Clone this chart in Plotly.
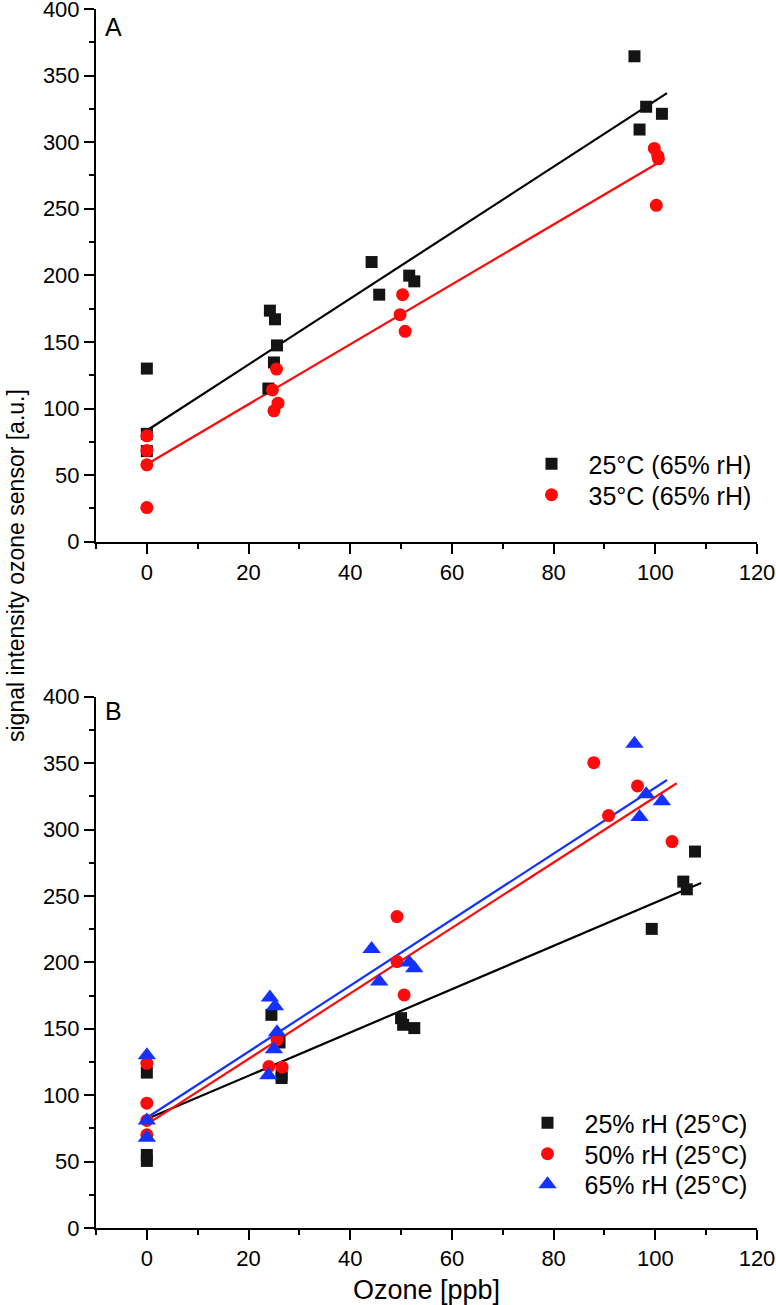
import plotly.graph_objects as go

# ---------------- data ----------------
# Panel A: 25°C (65% rH)  -- identical data set is used for 65% rH (25°C) in panel B
a_black_x = [0, 0, 0, 24.2, 25.2, 25.6, 25.0, 23.9, 44.2, 45.7, 51.6, 52.6, 95.9, 98.2, 101.3, 96.9]
a_black_y = [130, 81, 68, 173.5, 167, 147.4, 134.6, 115, 210, 185.5, 199.8, 195.5, 364.5, 326.6, 321.3, 309.5]
# Panel A: 35°C (65% rH)
a_red_x = [0, 0, 0, 0, 25.5, 24.7, 25.8, 25.0, 50.3, 49.8, 50.8, 99.8, 100.5, 100.6, 100.2]
a_red_y = [79.5, 68.4, 57.7, 25.6, 129.6, 114, 104, 98.3, 185.5, 170.5, 158, 295.3, 289.5, 287.5, 252.6]
# Panel B: 25% rH (25°C)
b_black_x = [0, 0, 0, 24.5, 26.1, 26.5, 26.5, 50.0, 50.4, 52.6, 99.3, 105.5, 106.2, 107.8]
b_black_y = [117, 55, 50.5, 160.5, 139.7, 115.3, 112.9, 158, 153, 150.5, 225.2, 260.8, 255, 283.4]
# Panel B: 50% rH (25°C)
b_red_x = [0, 0, 0, 0, 25.6, 24.0, 26.6, 49.2, 49.2, 50.6, 87.9, 96.5, 90.8, 103.3]
b_red_y = [124, 94, 81, 70.2, 141.7, 121.6, 121.1, 234.5, 200.6, 175.5, 350.3, 332.8, 310.5, 290.9]
# Panel B: 65% rH (25°C)
b_blue_x = a_black_x
b_blue_y = a_black_y

# linear fits as drawn in the reference: (intercept, slope, x_start, x_end)
fit_a_black = (83.5, 2.476, 0, 102.3)
fit_a_red = (58.2, 2.25, 0, 100.6)
fit_b_black = (82.0, 1.63, 0, 109.0)
fit_b_red = (78.0, 2.465, 0, 104.2)
fit_b_blue = (83.0, 2.486, 0, 102.3)

legend_a = ["25°C (65% rH)", "35°C (65% rH)"]
legend_b = ["25% rH (25°C)", "50% rH (25°C)", "65% rH (25°C)"]

x_ticks = [0, 20, 40, 60, 80, 100, 120]
y_ticks = [0, 50, 100, 150, 200, 250, 300, 350, 400]

# ---------------- styling ----------------
FONT = "Liberation Sans, Arial, sans-serif"
BLACK = "#141414"
RED = "#ff0a0a"
BLUE = "#1432ff"

H, W = 1305, 776
mt, mb, ml, mr = 9, 77, 96, 19
ph = H - mt - mb


def py(pix):  # pixel row -> paper y
    return (H - mb - pix) / ph


def px(pix):  # pixel column -> paper x
    return (pix - ml) / (W - ml - mr)


fig = go.Figure()


def fit_line(fit, color, xa, ya):
    b0, b1, xs, xe = fit
    fig.add_trace(go.Scatter(x=[xs, xe], y=[b0 + b1 * xs, b0 + b1 * xe], mode="lines",
                             line=dict(color=color, width=2.2), showlegend=False,
                             xaxis=xa, yaxis=ya, hoverinfo="skip"))


def pts(x, y, color, symbol, size, name, xa, ya, legend):
    fig.add_trace(go.Scatter(x=x, y=y, mode="markers", name=name,
                             marker=dict(color=color, symbol=symbol, size=size, line=dict(width=0)),
                             xaxis=xa, yaxis=ya, legend=legend, cliponaxis=False))


# Panel A
fit_line(fit_a_black, "black", "x", "y")
fit_line(fit_a_red, RED, "x", "y")
pts(a_black_x, a_black_y, BLACK, "square", 12, legend_a[0], "x", "y", "legend")
pts(a_red_x, a_red_y, RED, "circle", 13, legend_a[1], "x", "y", "legend2")

# Panel B
fit_line(fit_b_black, "black", "x2", "y2")
fit_line(fit_b_red, RED, "x2", "y2")
fit_line(fit_b_blue, BLUE, "x2", "y2")
pts(b_black_x, b_black_y, BLACK, "square", 12, legend_b[0], "x2", "y2", "legend3")
pts(b_red_x, b_red_y, RED, "circle", 13, legend_b[1], "x2", "y2", "legend4")
pts(b_blue_x, b_blue_y, BLUE, "triangle-up", 16, legend_b[2], "x2", "y2", "legend5")

axis_common = dict(showline=True, linecolor="black", linewidth=2, ticks="outside", ticklen=10,
                   tickwidth=2, tickcolor="black", showgrid=False, zeroline=False, mirror=False,
                   automargin=False, ticklabeloverflow="allow",
                   tickfont=dict(size=22, color="black", family=FONT))

xcfg = dict(axis_common, range=[-10, 120], tickmode="array", tickvals=x_ticks,
            minor=dict(ticks="outside", ticklen=5, tickwidth=2, tickcolor="black", dtick=10, tick0=0))
ycfg = dict(axis_common, range=[0, 400], tickmode="array", tickvals=y_ticks,
            minor=dict(ticks="outside", ticklen=5, tickwidth=2, tickcolor="black", dtick=25, tick0=0))

leg_common = dict(xanchor="left", yanchor="middle", bgcolor="rgba(0,0,0,0)",
                  font=dict(size=25, color="black", family=FONT), itemwidth=64, tracegroupgap=0)

fig.update_layout(
    width=W, height=H,
    margin=dict(l=ml, r=mr, t=mt, b=mb, autoexpand=False),
    paper_bgcolor="white", plot_bgcolor="white",
    font=dict(family=FONT, color="black"),
    xaxis=dict(xcfg, anchor="y"),
    yaxis=dict(ycfg, domain=[py(541.7), 1], anchor="x"),
    xaxis2=dict(xcfg, anchor="y2"),
    yaxis2=dict(ycfg, domain=[0, py(696.7)], anchor="x2"),
    legend=dict(leg_common, x=px(514.5), y=py(464)),
    legend2=dict(leg_common, x=px(514.5), y=py(495)),
    legend3=dict(leg_common, x=px(510.5), y=py(1123)),
    legend4=dict(leg_common, x=px(510.5), y=py(1154)),
    legend5=dict(leg_common, x=px(510.5), y=py(1184.5)),
    annotations=[
        dict(text="A", x=px(103), y=py(27), xref="paper", yref="paper", xanchor="left", yanchor="middle",
             showarrow=False, font=dict(size=25, family=FONT, color="black")),
        dict(text="B", x=px(103), y=py(711), xref="paper", yref="paper", xanchor="left", yanchor="middle",
             showarrow=False, font=dict(size=25, family=FONT, color="black")),
        dict(text="Ozone [ppb]", x=0.5, y=py(1290), xref="paper", yref="paper", xanchor="center",
             yanchor="middle", showarrow=False, font=dict(size=27, family=FONT, color="black")),
        dict(text="signal intensity ozone sensor [a.u.]", x=px(16), y=py(566), xref="paper", yref="paper",
             xanchor="center", yanchor="middle", textangle=-90, showarrow=False,
             font=dict(size=23, family=FONT, color="black")),
    ],
)

fig.write_html("out.html")
